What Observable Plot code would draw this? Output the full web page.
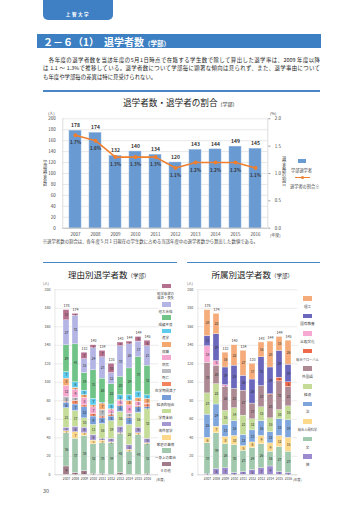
<!DOCTYPE html>
<html><head><meta charset="utf-8">
<script src="https://cdn.jsdelivr.net/npm/d3@7"></script>
<script src="https://cdn.jsdelivr.net/npm/@observablehq/plot@0.6"></script>
<style>
html,body{margin:0;padding:0;background:#fff;}
#page{position:relative;width:360px;height:509px;overflow:hidden;background:#fff;font-family:"Noto Sans CJK JP","Noto Sans",sans-serif;color:#333;}
.abs{position:absolute;white-space:nowrap;}
.para{position:absolute;left:43px;width:277px;font-size:5.4px;line-height:8.3px;color:#222;white-space:nowrap;}
.just{text-align:justify;text-align-last:justify;}
.vt{position:absolute;writing-mode:vertical-rl;font-size:4.2px;color:#444;white-space:nowrap;}
.sm{position:absolute;font-size:3.6px;color:#444;white-space:nowrap;}
</style></head>
<body><div id="page">
<div class="abs" style="left:43px;top:0;width:70px;height:20px;background:#3f80c4;border-radius:0 0 5px 5px;"></div>
<div class="abs" style="left:43px;top:10.5px;width:70px;text-align:center;color:#fff;font-size:4.5px;letter-spacing:1.6px;font-weight:bold;line-height:6px;">上智大学</div>
<div class="abs" style="left:37px;top:34.3px;width:284px;height:13.4px;background:#3c7fc2;"></div>
<div class="abs" style="left:43px;top:34.5px;height:13px;line-height:13px;color:#fff;font-weight:bold;font-size:10px;">２－６（1）　退学者数<span style="font-size:6.5px;">（学部）</span></div>
<div class="para just" style="top:55.8px;">　各年度の退学者数を当該年度の5月1日時点で在籍する学生数で除して算出した退学率は、2009 年度以降</div>
<div class="para just" style="top:64.1px;">は 1.1 ～ 1.3%で推移している。退学者数について学部毎に顕著な傾向は見られず、また、退学事由について</div>
<div class="para" style="top:72.5px;">も年度や学部毎の差異は特に見受けられない。</div>
<div class="abs" style="left:43px;top:90.4px;width:277px;height:1.3px;background:#4a86c5;"></div>
<div class="abs" style="left:123px;top:97px;font-size:8.6px;line-height:11px;color:#222;">退学者数・退学者の割合<span style="font-size:5px;">（学部）</span></div>
<div class="sm" style="left:48px;top:109.5px;font-size:4px;">(人)</div>
<div class="sm" style="left:270px;top:109.5px;font-size:4px;">(%)</div>
<div class="vt" style="left:42px;top:160px;">学部退学者数</div>
<div class="vt" style="left:281px;top:156px;">退学者数の割合</div>
<div class="sm" style="left:270px;top:232px;font-size:4px;">(年度)</div>
<div class="abs" style="left:298.3px;top:159px;width:7.7px;height:4.4px;background:#6a9ad2;"></div>
<div class="sm" style="left:291px;top:167px;font-size:4.2px;">学部退学者</div>
<div class="abs" style="left:295px;top:177px;width:15px;height:1.4px;background:#ef7f2e;"></div>
<div class="abs" style="left:300.7px;top:175.9px;width:3.6px;height:3.6px;border-radius:50%;background:#ef7f2e;"></div>
<div class="sm" style="left:290px;top:182.6px;font-size:4.2px;">退学者の割合※</div>
<div class="sm" style="left:42.7px;top:238.4px;font-size:4.4px;">※退学者数の割合は、各年度５月１日現在の学生数に占める当該年度中の退学者数から算出した数値である。</div>
<div class="abs" style="left:43px;top:262px;width:134px;height:1.3px;background:#4a86c5;"></div>
<div class="abs" style="left:187px;top:262px;width:133px;height:1.3px;background:#4a86c5;"></div>
<div class="abs" style="left:68px;top:268.5px;font-size:8.5px;line-height:11px;color:#222;">理由別退学者数<span style="font-size:5.5px;">（学部）</span></div>
<div class="abs" style="left:211.5px;top:268.5px;font-size:8.5px;line-height:11px;color:#222;">所属別退学者数<span style="font-size:5.5px;">（学部）</span></div>
<div class="sm" style="left:43px;top:281.3px;">(人)</div>
<div class="sm" style="left:187px;top:281px;">(人)</div>
<div class="sm" style="left:156px;top:477px;font-size:3.2px;">(年度)</div>
<div class="sm" style="left:293px;top:477px;font-size:3.2px;">(年度)</div>
<div class="abs" style="left:43px;top:486.5px;font-size:5.5px;color:#555;">30</div>
</div>
<script>
const years = ["2007","2008","2009","2010","2011","2012","2013","2014","2015","2016"];
const totalDropouts = [178,174,132,140,134,120,143,144,149,145];
const dropoutRate = [1.7,1.6,1.3,1.3,1.3,1.1,1.2,1.2,1.2,1.1];

// reasons (stack order bottom -> top)
const reasonNames = ["その他","一身上の都合","家庭の事情","海外留学","学費未納","経済的理由","在学期間満了","死亡","病気","就職","進学","成績不良","他大合格","勉学意欲の減退・喪失"];
const rOther     = [9,2,4,1,1,0,2,0,0,1];
const rPersonal  = [36,37,38,32,33,34,42,25,43,32];
const rFamily    = [2,7,3,4,3,1,1,2,2,1];
const rAbroad    = [4,6,6,6,2,4,7,5,6,5];
const rUnpaid    = [21,17,10,11,16,19,16,22,16,32];
const rEconomic  = [6,7,12,9,6,5,6,7,6,2];
const rTermEnd   = [1,4,2,3,2,2,1,1,1,3];
const rDeath     = [5,3,0,0,7,1,0,4,0,0];
const rIllness   = [12,9,8,7,0,4,5,9,5,1];
const rJob       = [8,2,3,2,7,1,1,5,4,5];
const rFurther   = [7,6,5,7,1,5,5,6,7,4];
const rGrades    = [29,41,19,31,26,22,20,29,37,32];
const rOtherUniv = [27,31,15,24,23,12,33,26,17,21];
const rMotivation= [11,2,7,3,7,10,4,3,5,6];
const reasonSeries = [rOther,rPersonal,rFamily,rAbroad,rUnpaid,rEconomic,rTermEnd,rDeath,rIllness,rJob,rFurther,rGrades,rOtherUniv,rMotivation];
const reasonColors = ["#a27c88","#a2c9ae","#fdd88a","#a497cf","#c6dd9a","#779ed8","#f3845f","#b9bcc2","#f4a6cf","#f5a86e","#5ccbee","#71c487","#b4b5e4","#b5708f"];

// faculties (stack order bottom -> top)
const facultyNames = ["神","文","総合人間科学","法","経済","外国語","総合グローバル","比較文化","国際教養","理工"];
const fTheology   = [1,6,7,2,3,5,7,9,3,2];
const fHumanities = [33,39,26,30,23,24,26,16,27,23];
const fHumanSci   = [6,7,8,10,5,6,9,9,12,15];
const fLaw        = [25,24,13,16,12,13,16,12,18,19];
const fEconomics  = [23,22,15,14,21,12,15,15,10,15];
const fForeign    = [33,20,26,21,27,17,23,25,31,21];
const fGlobal     = [0,0,0,0,0,0,0,1,4,5];
const fCompCult   = [18,5,2,0,0,0,0,0,0,0];
const fLiberal    = [11,29,19,25,16,26,31,29,29,19];
const fSciTech    = [28,22,16,22,27,17,16,28,15,26];
const facultySeries = [fTheology,fHumanities,fHumanSci,fLaw,fEconomics,fForeign,fGlobal,fCompCult,fLiberal,fSciTech];
const facultyColors = ["#9d8bd0","#a1c9ad","#fdd98c","#7ea6dc","#c4dc98","#ad8a93","#ef6a4a","#f6a7d2","#6a67bd","#f5ac7a"];

const FONT = '"Noto Sans CJK JP","Noto Sans",sans-serif';
const page = document.getElementById("page");
function place(el, left, top){
  const d = document.createElement("div");
  d.className = "abs"; d.style.left = left+"px"; d.style.top = top+"px";
  d.appendChild(el); page.appendChild(d);
}
const baseStyle = {fontFamily:FONT, fontSize:"4.5px", color:"#444", background:"transparent", overflow:"visible"};

// ---------- top chart ----------
const topData = years.map((y,i)=>({year:y,total:totalDropouts[i],rate:dropoutRate[i]}));
const topChart = Plot.plot({
  width:360, height:135, marginTop:13.3, marginBottom:12.3, marginLeft:62.3, marginRight:92.7,
  style:baseStyle,
  x:{domain:years, paddingInner:0.41, paddingOuter:0.25},
  y:{domain:[0,200]},
  marks:[
    Plot.ruleY(d3.range(20,201,20),{stroke:"#d6d6d6",strokeWidth:0.6}),
    Plot.barY(topData,{x:"year",y:"total",fill:"#6a9ad2",stroke:"#8fb3de",strokeWidth:0.5}),
    Plot.ruleY([0],{stroke:"#9a9a9a",strokeWidth:0.7}),
    Plot.frame({anchor:"left",stroke:"#c4c4c4",strokeWidth:0.6}),
    Plot.frame({anchor:"right",stroke:"#c4c4c4",strokeWidth:0.6}),
    Plot.axisY({anchor:"left",ticks:d3.range(0,201,20),tickSize:0,tickPadding:7,fontSize:4.5,label:null}),
    Plot.axisY({anchor:"right",ticks:[0,50,100,150,200],tickFormat:d=>(d/100).toFixed(1),tickSize:2,tickPadding:5,fontSize:4.5,label:null,stroke:"#999"}),
    Plot.axisX({tickSize:0,tickPadding:5,fontSize:4.5,label:null}),
    Plot.line(topData,{x:"year",y:d=>d.rate*100,stroke:"#ef7f2e",strokeWidth:1.6}),
    Plot.dot(topData,{x:"year",y:d=>d.rate*100,fill:"#ef7f2e",r:2}),
    Plot.text(topData,{x:"year",y:"total",text:d=>String(d.total),dy:-5.5,fontSize:5,fontWeight:"bold",fill:"#333"}),
    Plot.text(topData,{x:"year",y:d=>d.rate*100,text:d=>d.rate.toFixed(1)+"%",dy:7.5,fontSize:4.5,fontWeight:"bold",fill:"#333"})
  ]
});
place(topChart, 0, 105);

// ---------- stacked charts ----------
function stackedChart(names, series, colors, opts){
  const rows = [];
  years.forEach((yr,i)=>names.forEach((n,k)=>rows.push({year:yr,cat:n,value:series[k][i]})));
  const totals = years.map((yr,i)=>({year:yr,total:series.reduce((s,a)=>s+a[i],0)}));
  return Plot.plot({
    width:180, height:205, marginTop:9.3, marginBottom:10.7, marginLeft:opts.ml, marginRight:opts.mr,
    style:{...baseStyle, fontSize:"3.6px"},
    x:{domain:years, paddingInner:0.3, paddingOuter:opts.po},
    y:{domain:[0,200]},
    color:{domain:names, range:colors},
    marks:[
      Plot.ruleY(d3.range(20,201,20),{stroke:"#d9d9d9",strokeWidth:0.5}),
      Plot.barY(rows,{x:"year",y:"value",fill:"cat",stroke:"#fff",strokeWidth:0.3}),
      Plot.ruleY([0],{stroke:"#aaa",strokeWidth:0.5}),
      Plot.frame({anchor:"left",stroke:"#ccc",strokeWidth:0.5}),
      Plot.axisY({ticks:d3.range(0,201,20),tickSize:0,tickPadding:opts.tp,fontSize:3.6,label:null}),
      Plot.axisX({tickSize:0,tickPadding:2.6,fontSize:3.3,label:null}),
      Plot.text(rows.filter(d=>d.value>0),Plot.stackY({x:"year",y:"value",z:"cat",text:d=>String(d.value),fontSize:d=>d.value<3?2.4:d.value<5?2.6:3.4,fill:"#333"})),
      Plot.text(totals,{x:"year",y:"total",text:d=>String(d.total),dy:-4,fontSize:3.6,fill:"#333"})
    ]
  });
}
place(stackedChart(reasonNames, reasonSeries, reasonColors, {ml:54.5, mr:21.5, po:0.59, tp:4.5}), 0, 280);
place(stackedChart(facultyNames, facultySeries, facultyColors, {ml:17.4, mr:62.6, po:0.45, tp:4.6}), 180, 280);

// ---------- legends ----------
function addBox(l,t,w,h,c){const d=document.createElement("div");d.className="abs";d.style.cssText+=`left:${l}px;top:${t}px;width:${w}px;height:${h}px;background:${c};`;page.appendChild(d);}
function addLabel(html,cx,t,fs,lh){const d=document.createElement("div");d.className="abs";d.style.cssText+=`left:${cx-20}px;top:${t}px;width:40px;text-align:center;font-size:${fs}px;line-height:${lh}px;color:#444;`;d.innerHTML=html;page.appendChild(d);}
const leftItems = reasonNames.map((n,i)=>({n,c:reasonColors[i]})).reverse();
leftItems.forEach((it,k)=>{
  const cy = k===0 ? 286 : 304.3+(k-1)*13.3;
  addBox(161.7, cy-2.2, 9, 4.5, it.c);
  if(k===0) addLabel("勉学意欲の<br>減退・喪失",165.5,cy+5.7,3.4,4.7);
  else addLabel(it.n,165.5,cy+5.3,3.5,4);
});
const rightItems = facultyNames.map((n,i)=>({n,c:facultyColors[i]})).reverse();
rightItems.forEach((it,k)=>{
  const cy = 298.3+k*17.6;
  addBox(303.3, cy-2.35, 8.4, 4.7, it.c);
  addLabel(it.n,307.5,cy+6.4,it.n.length>4?3.2:3.6,4);
});
</script>
</body></html>
